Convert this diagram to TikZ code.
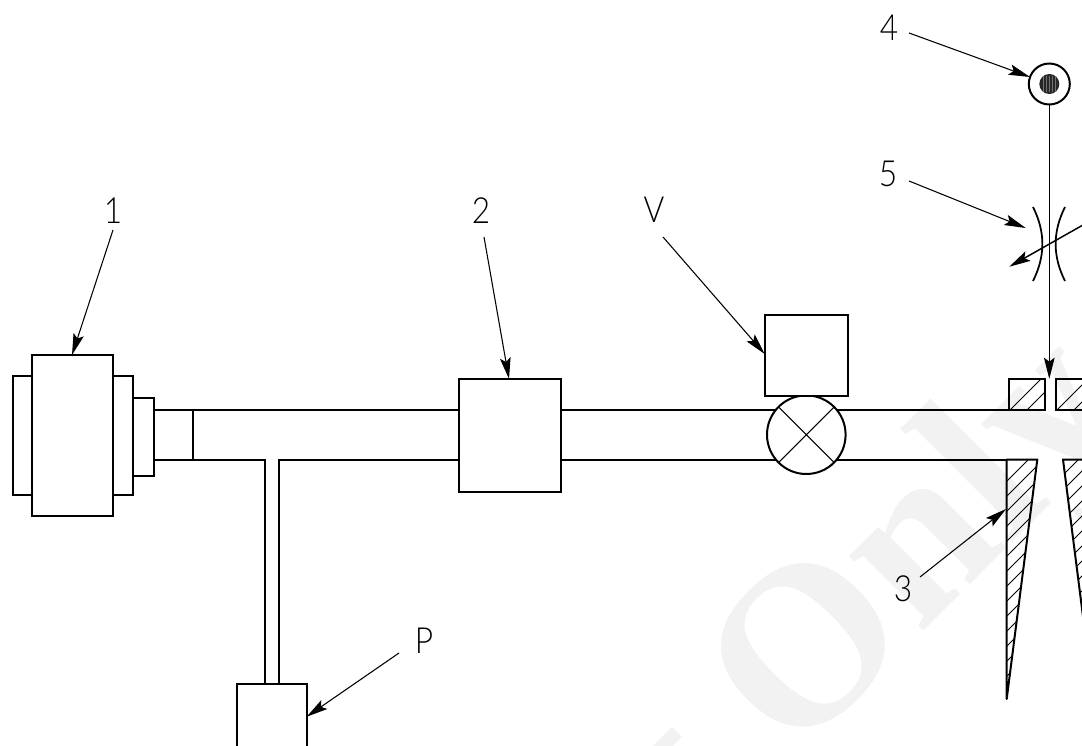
\documentclass[tikz,border=0pt]{standalone}
\usepackage{fontspec}
\setmainfont{Lato Light}
\newfontfamily\wmfont{Liberation Serif}
\usetikzlibrary{arrows.meta}
\definecolor{wm}{gray}{0.95}
\tikzset{
  part/.style={draw=black,line width=1.5pt,fill=white,rectangle,inner sep=0pt,outer sep=0pt},
  pipe/.style={draw=black,line width=1.5pt},
  hatch/.style={draw=black,line width=0.55pt},
  leader/.style={draw=black,line width=0.8pt,-{Stealth[length=16pt,width=8pt,inset=3pt]}},
  lab/.style={font=\fontsize{27}{27}\selectfont,inner sep=0pt,xscale=0.88},
}
\begin{document}
\begin{tikzpicture}[x=0.75pt,y=-0.75pt]
\useasboundingbox (0,0) rectangle (1082,746);
\clip (0,0) rectangle (1082,746);
% watermark
\node[rotate=45,anchor=base west,text=wm,inner sep=0pt,font=\wmfont\bfseries\fontsize{172}{172}\selectfont] (wmark) at (793,762) {Only};
\fill[wm] (653,746) -- (672,727) -- (682,737) -- (673,746) -- cycle;
% pipes
\coordinate (ptl) at (153.5,410); \coordinate (pbl) at (153.5,459.5);
\path[pipe] (ptl) -- (1008.5,410);
\path[pipe] (pbl) -- (264.5,459.5) -- (264.5,684);
\path[pipe] (279,684) -- (279,459.5) -- (1007,459.5);
\path[pipe] (193,410) -- (193,459.5);
% component 1
\path[part] (13,376) rectangle (32,495);
\path[part] (113,376) rectangle (132.5,495);
\path[part] (132.5,398) rectangle (153.5,476);
\path[part] (32,355) rectangle (113,516);
% component 2, P
\path[part] (459,379) rectangle (561,492);
\path[part] (237,684) rectangle (306.5,760);
% valve
\path[part] (806.3,434.7) circle [radius=39.3];
\draw[line width=0.8pt] (778.5,406.9) -- (834.1,462.5) (778.5,462.5) -- (834.1,406.9);
\path[part] (764.7,315) rectangle (848,395.7);
% hatched blocks
\begin{scope}
\clip (1008.5,378.7) rectangle (1045,410);
\foreach \i in {0,...,5} \draw[hatch] (1000+17*\i,420) -- ++(50,-50);
\end{scope}
\path[pipe] (1008.5,378.7) rectangle (1045,410);
\begin{scope}
\clip (1055.7,378.7) rectangle (1100,410);
\foreach \i in {0,...,5} \draw[hatch] (1047+17*\i,420) -- ++(50,-50);
\end{scope}
\path[pipe] (1055.7,378.7) rectangle (1100,410);
% wedges
\begin{scope}
\clip (1006.7,459.5) -- (1037.3,459.5) -- (1006.7,699) -- cycle;
\foreach \i in {0,...,16} \draw[hatch] (1000,488+15*\i) -- ++(50,-50);
\end{scope}
\path[pipe,line join=round] (1006.7,459.5) -- (1037.3,459.5) -- (1006.7,699) -- cycle;
\begin{scope}
\clip (1063,459.5) -- (1110,459.5) -- (1093.5,699) -- cycle;
\foreach \i in {0,...,20} \draw[hatch] (1050,488+15*\i) -- ++(60,-60);
\end{scope}
\path[pipe,line join=round] (1110,459.5) -- (1063,459.5) -- (1093.5,699);
% source
\node[part,circle,minimum size=30.75pt] (src) at (1049.3,84) {};
\fill[black!85] (1049.3,84) circle [radius=10];
\foreach \i in {-6,-3,0,3,6} \draw[black!55,line width=0.35pt] (1049.3+\i,76) -- (1049.3+\i,92);
% wire
\coordinate (slit) at (1049.3,379);
\draw[leader,line width=1pt] (src.south) -- (slit);
% lens
\draw[line width=1.3pt] (1033,207) .. controls (1045.5,232) and (1045.5,256) .. (1033,281);
\draw[line width=1.3pt] (1065,207) .. controls (1052.5,232) and (1052.5,256) .. (1065,281);
\coordinate (adjS) at (1090,221); \coordinate (adjT) at (1009.3,266.7);
\draw[leader,line width=1.1pt] (adjS) -- (adjT);
% labels
\node[lab] (l1) at (113,211) {1};
\node[lab] (l2) at (481,211) {2};
\node[lab] (lV) at (654,210) {V};
\node[lab] (l4) at (889,28) {4};
\node[lab] (l5) at (888,174) {5};
\node[lab] (l3) at (903,589) {3};
\node[lab] (lP) at (424,641) {P};
% leaders
\coordinate (s1) at (113,230); \coordinate (t1) at (72,355);
\coordinate (s2) at (484,237); \coordinate (t2) at (509,379);
\coordinate (sV) at (663,237); \coordinate (tV) at (764.7,354);
\coordinate (s4) at (909,33); \coordinate (t4) at (1030,77);
\coordinate (s5) at (909,181); \coordinate (t5) at (1025.7,228);
\coordinate (s3) at (920,577); \coordinate (t3) at (1006,509);
\coordinate (sP) at (399,653); \coordinate (tP) at (306.7,716.7);
\foreach \n in {1,2,V,4,5,3,P} \draw[leader] (s\n) -- (t\n);
\end{tikzpicture}
\end{document}
